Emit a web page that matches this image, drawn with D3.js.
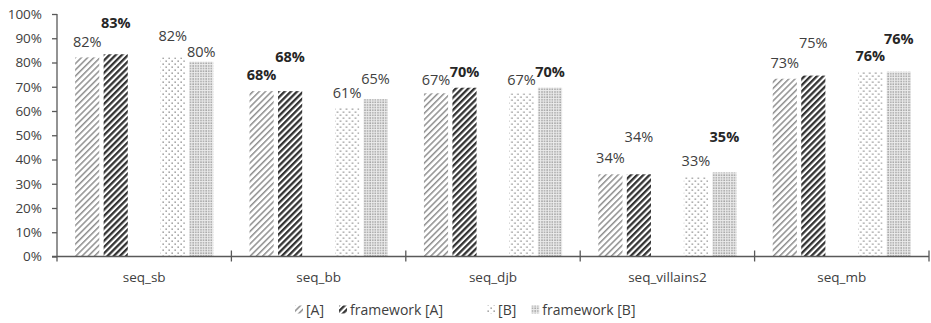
<!DOCTYPE html>
<html>
<head>
<meta charset="utf-8">
<script src="https://cdn.jsdelivr.net/npm/d3@7"></script>
<style>
  html, body { margin: 0; padding: 0; background: #fff; }
  svg { display: block; font-family: "Open Sans", "Liberation Sans", sans-serif; }
</style>
</head>
<body>
<svg id="chart" width="931" height="323"></svg>
<script>
// Benchmarks on the x axis
const categories = ["seq_sb", "seq_bb", "seq_djb", "seq_villains2", "seq_mb"];

// Series keys, legend names and values (share of 1)
const seriesKeys = ["A", "fwA", "B", "fwB"];
const seriesNames = ["[A]", "framework [A]", "[B]", "framework [B]"];
const valuesA   = [0.821, 0.682, 0.673, 0.339, 0.733];
const valuesFwA = [0.834, 0.682, 0.696, 0.339, 0.746];
const valuesB   = [0.821, 0.614, 0.673, 0.327, 0.762];
const valuesFwB = [0.803, 0.649, 0.696, 0.347, 0.762];

// Y axis ticks
const yTicks = [0, 0.1, 0.2, 0.3, 0.4, 0.5, 0.6, 0.7, 0.8, 0.9, 1.0];

// Label lift above each bar top (px), per series then category
const liftA   = [15, 16, 13, 16, 16];
const liftFwA = [31, 34, 16, 37, 33];
const liftB   = [21, 15, 13, 16, 16];
const liftFwB = [10, 20, 16, 35, 33];

const seriesValues = { A: valuesA, fwA: valuesFwA, B: valuesB, fwB: valuesFwB };
const seriesLift = { A: liftA, fwA: liftFwA, B: liftB, fwB: liftFwB };

const svg = d3.select("#chart");
const axisColor = "#595959";
const textColor = "#404040";

// ---- fill patterns ----
const defs = svg.append("defs");

function stripes(id, color, width) {
  const p = defs.append("pattern")
    .attr("id", id).attr("patternUnits", "userSpaceOnUse")
    .attr("width", 4.4).attr("height", 4.4)
    .attr("patternTransform", "rotate(45)");
  p.append("rect").attr("width", 4.4).attr("height", 4.4).attr("fill", "#fff");
  p.append("rect").attr("x", 0).attr("y", 0).attr("width", width).attr("height", 4.4).attr("fill", color);
}
stripes("pat-A", "#8f8f8f", 1.5);
stripes("pat-fwA", "#333333", 2.3);

const pB = defs.append("pattern")
  .attr("id", "pat-B").attr("patternUnits", "userSpaceOnUse")
  .attr("width", 6).attr("height", 6);
pB.append("rect").attr("width", 6).attr("height", 6).attr("fill", "#fff");
pB.append("rect").attr("x", 0.5).attr("y", 0.5).attr("width", 1.3).attr("height", 1.3).attr("fill", "#7a7a7a");
pB.append("rect").attr("x", 3.5).attr("y", 3.5).attr("width", 1.3).attr("height", 1.3).attr("fill", "#7a7a7a");

const pF = defs.append("pattern")
  .attr("id", "pat-fwB").attr("patternUnits", "userSpaceOnUse")
  .attr("width", 2.6).attr("height", 2.6);
pF.append("rect").attr("width", 2.6).attr("height", 2.6).attr("fill", "#ececec");
pF.append("rect").attr("x", 0.3).attr("y", 0.3).attr("width", 1.3).attr("height", 1.3).attr("fill", "#8a8a8a");

// ---- scales ----
const x0 = d3.scaleBand().domain(categories).range([57, 929]);
const x1 = d3.scaleBand()
  .domain(["A", "fwA", "gap", "B", "fwB"])
  .range([0, x0.bandwidth()])
  .paddingInner(0.152)
  .paddingOuter(0.636);
const y = d3.scaleLinear().domain([0, 1]).range([256.5, 14]);

// ---- bars ----
const fmt = d3.format(".0%");
const rows = categories.map((c, i) => {
  const best = d3.max(seriesKeys, k => Math.round(seriesValues[k][i] * 100));
  return { c, i, best };
});

const groups = svg.append("g").selectAll("g")
  .data(rows).join("g")
  .attr("transform", d => `translate(${x0(d.c)},0)`);

groups.selectAll("rect")
  .data(d => seriesKeys.map(k => ({ k, v: seriesValues[k][d.i] })))
  .join("rect")
  .attr("x", d => x1(d.k))
  .attr("y", d => y(d.v))
  .attr("width", x1.bandwidth())
  .attr("height", d => y(0) - y(d.v))
  .attr("fill", d => `url(#pat-${d.k})`);

groups.selectAll("text")
  .data(d => seriesKeys.map(k => ({
    k, v: seriesValues[k][d.i], lift: seriesLift[k][d.i],
    bold: Math.round(seriesValues[k][d.i] * 100) === d.best
  })))
  .join("text")
  .attr("x", d => x1(d.k) + x1.bandwidth() / 2)
  .attr("y", d => y(d.v) - d.lift)
  .attr("dy", "0.35em")
  .attr("text-anchor", "middle")
  .attr("font-size", 14.5)
  .attr("font-weight", d => d.bold ? 700 : 400)
  .attr("fill", d => d.bold ? "#262626" : textColor)
  .text(d => fmt(d.v));

// ---- y axis ----
const yAxis = svg.append("g")
  .attr("transform", "translate(57,0)")
  .call(d3.axisLeft(y).tickValues(yTicks).tickFormat(fmt).tickSize(5).tickPadding(10));
yAxis.select(".domain").attr("stroke", axisColor).attr("stroke-width", 1.3).attr("d", `M0,${y(1)}V${y(0) + 5}`);
yAxis.selectAll(".tick line").attr("stroke", axisColor).attr("stroke-width", 1.3);
yAxis.selectAll(".tick text").attr("fill", textColor).attr("font-size", 13.5)
  .attr("font-family", "'Open Sans', sans-serif");

// ---- x axis ----
const xAxis = svg.append("g").attr("transform", `translate(0,${y(0)})`);
xAxis.append("line")
  .attr("x1", 52).attr("x2", 929)
  .attr("stroke", axisColor).attr("stroke-width", 1.3);
xAxis.selectAll("line.sep")
  .data(categories.slice(1).concat(["__end"]))
  .join("line").attr("class", "sep")
  .attr("x1", (d, i) => i < categories.length - 1 ? x0(d) : x0.range()[1])
  .attr("x2", (d, i) => i < categories.length - 1 ? x0(d) : x0.range()[1])
  .attr("y1", -6).attr("y2", 5)
  .attr("stroke", axisColor).attr("stroke-width", 1.3);
xAxis.selectAll("text")
  .data(categories).join("text")
  .attr("x", d => x0(d) + x0.bandwidth() / 2)
  .attr("y", 21)
  .attr("dy", "0.35em")
  .attr("text-anchor", "middle")
  .attr("font-size", 13.5)
  .attr("fill", textColor)
  .text(d => d);

// ---- legend ----
const legendItems = [
  { k: "A", name: seriesNames[0] },
  { k: "fwA", name: seriesNames[1] },
  { k: null, name: "" },
  { k: "B", name: seriesNames[2] },
  { k: "fwB", name: seriesNames[3] }
];
const legend = svg.append("g").attr("transform", "translate(295,310)");
let cursor = 0;
legendItems.forEach(item => {
  if (!item.k) { cursor += 29; return; }
  legend.append("rect")
    .attr("x", cursor).attr("y", -4.5).attr("width", 8).attr("height", 8)
    .attr("fill", `url(#pat-${item.k})`);
  const t = legend.append("text")
    .attr("x", cursor + 11).attr("y", 0).attr("dy", "0.35em")
    .attr("font-size", 14).attr("fill", textColor)
    .text(item.name);
  cursor += 11 + t.node().getComputedTextLength() + 15;
});
</script>
</body>
</html>
